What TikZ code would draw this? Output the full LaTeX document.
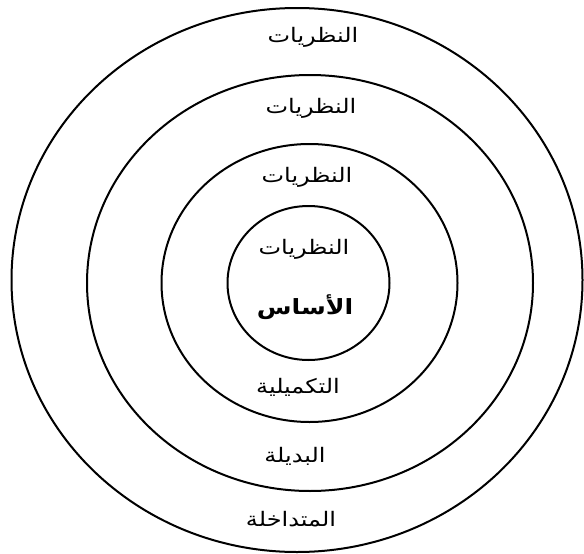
\documentclass[tikz,border=0pt]{standalone}
\usepackage{fontspec}
\TeXXeTstate=1
\newfontfamily\arabicfont[Script=Arabic,FakeStretch=1.2]{DejaVu Sans}
\begin{document}
\begin{tikzpicture}[
  x=1pt, y=-1pt,
  line cap=round,
  line join=round,
  ring/.style={line width=2pt},
  ringtext/.style={font=\arabicfont\fontsize{20}{24}\selectfont, inner sep=0pt}
]
  \useasboundingbox (0,0) rectangle (584,554);

  % Centres of the rings
  \coordinate (O1) at (297,280);   % outer
  \coordinate (O2) at (310,283);
  \coordinate (O3) at (309.5,283);
  \coordinate (O4) at (308.5,283); % core

  % Rings
  \draw[ring] (O1) ellipse [x radius=285.5, y radius=272];
  \draw[ring] (O2) ellipse [x radius=223, y radius=208];
  \draw[ring] (O3) ellipse [x radius=148, y radius=139];
  \draw[ring] (O4) ellipse [x radius=81, y radius=77];

  % Upper labels
  \node[ringtext] (top1) at (313,37)  {\beginR النظريات\endR};
  \node[ringtext] (top2) at (311,108) {\beginR النظريات\endR};
  \node[ringtext] (top3) at (307,177) {\beginR النظريات\endR};
  \node[ringtext] (core1) at (304,249) {\beginR النظريات\endR};

  % Core and lower labels
  \node[ringtext, font=\arabicfont\bfseries\fontsize{21}{24}\selectfont] (core2) at (305,307) {\beginR الأساس\endR};
  \node[ringtext] (bot3) at (298,387) {\beginR التكميلية\endR};
  \node[ringtext] (bot2) at (295,456) {\beginR البديلة\endR};
  \node[ringtext] (bot1) at (291,519) {\beginR المتداخلة\endR};
\end{tikzpicture}
\end{document}
